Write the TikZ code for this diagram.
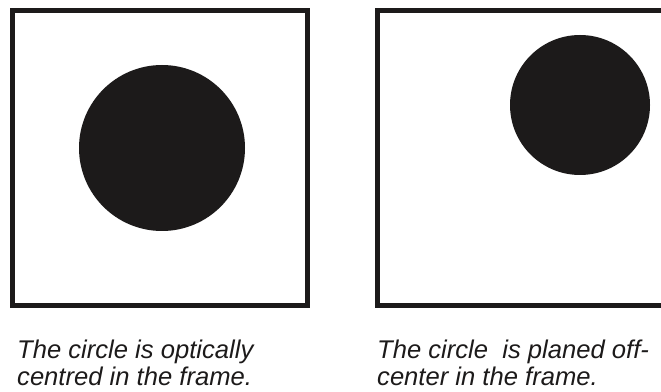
\documentclass[tikz,border=0pt]{standalone}
\usepackage{fontspec}
\setmainfont{Liberation Sans}
\begin{document}
\begin{tikzpicture}[x=1pt,y=1pt,
  frame/.style={draw=ink,line width=4.6pt},
  disc/.style={fill=ink,draw=none},
  caption/.style={anchor=base west,align=left,inner sep=0pt,text=ink,
    font=\fontsize{25.6}{27}\selectfont\itshape}]
\definecolor{ink}{HTML}{1C1A1A}
\useasboundingbox (0,0) rectangle (661,391);
\clip (0,0) rectangle (661,391);
\draw[frame] (12.5,380.5) rectangle (307.5,85.5);
\draw[frame] (377.5,380.5) rectangle (670,85.5);
\fill[disc] (162,243) circle (83);
\fill[disc] (580,286) circle (70);
\node[caption] (capL) at (17,5.5) {The circle is optically\\centred in the frame.};
\node[caption] (capR) at (377,5.5) {The circle\ \ is planed off-\\center in the frame.};
\end{tikzpicture}
\end{document}
